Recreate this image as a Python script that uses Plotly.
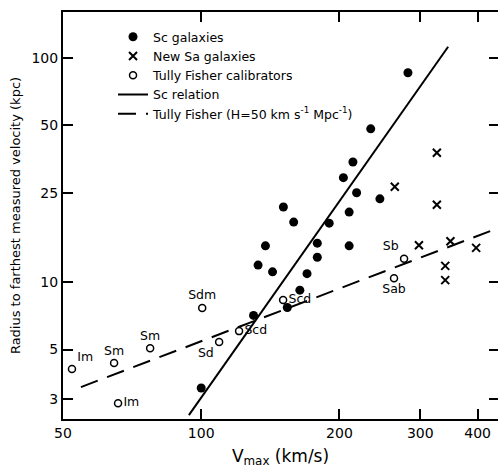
import numpy as np
import plotly.graph_objects as go

# Sc galaxies (Vmax km/s, radius kpc)
sc_v = [282, 234, 214, 204, 218, 245, 151, 159, 210, 190, 179, 210, 138, 179, 133, 143, 170, 164, 154, 130, 100]
sc_r = [85.7, 48.2, 34.3, 29.2, 25.0, 23.5, 21.6, 18.5, 20.5, 18.3, 14.9, 14.5, 14.5, 12.9, 11.9, 11.1, 10.9, 9.2, 7.7, 7.1, 3.37]

# New Sa galaxies
sa_v = [326, 264, 326, 298, 349, 397, 340, 340]
sa_r = [37.7, 26.6, 22.1, 14.6, 15.2, 14.2, 11.8, 10.2]

# Tully Fisher calibrators
tf_v = [52.3, 64.6, 77.4, 65.9, 100.5, 109.4, 120.9, 150.8, 276.6, 263]
tf_r = [4.09, 4.35, 5.07, 2.88, 7.66, 5.40, 6.04, 8.31, 12.7, 10.4]
tf_lab = ["Im", "Sm", "Sm", "Im", "Sdm", "Sd", "Scd", "Scd", "Sb", "Sab"]
tf_pos = ["top right", "top center", "top center", "middle right", "top center",
          "bottom left", "middle right", "middle right", "top left", "bottom center"]

# Sc relation line endpoints
scl_v = [94.0, 345]
scl_r = [2.55, 112]

# Tully Fisher relation line endpoints
tfl_v = [54.7, 443]
tfl_r = [3.40, 17.4]

xticks = [50, 100, 200, 300, 400]
yticks = [3, 5, 10, 25, 50, 100]

FONT = "DejaVu Sans"

fig = go.Figure()
fig.add_trace(go.Scatter(x=scl_v, y=scl_r, mode="lines", name="Sc relation",
                         line=dict(color="black", width=2), legendrank=4))
fig.add_trace(go.Scatter(x=tfl_v, y=tfl_r, mode="lines",
                         name="Tully Fisher (H=50 km s<sup>-1</sup> Mpc<sup>-1</sup>)",
                         line=dict(color="black", width=2, dash="18px,10px"), legendrank=5))
fig.add_trace(go.Scatter(x=sc_v, y=sc_r, mode="markers", name="Sc galaxies",
                         marker=dict(symbol="circle", size=9, color="black"), legendrank=1))
fig.add_trace(go.Scatter(x=sa_v, y=sa_r, mode="markers", name="New Sa galaxies",
                         marker=dict(symbol="x-thin-open", size=8, color="black",
                                     line=dict(color="black", width=2)), legendrank=2))
fig.add_trace(go.Scatter(x=tf_v, y=tf_r, mode="markers+text", name="Tully Fisher calibrators",
                         text=tf_lab, textposition=tf_pos,
                         textfont=dict(family=FONT, size=12.5, color="black"),
                         marker=dict(symbol="circle-open", size=7, color="black",
                                     line=dict(color="black", width=1.5)), legendrank=3))
# invisible trace for right-hand ticks
fig.add_trace(go.Scatter(x=[], y=[], yaxis="y2", showlegend=False, hoverinfo="skip"))

fig.update_layout(
    width=498, height=469,
    margin=dict(l=63, r=0, t=12, b=50, autoexpand=False),
    paper_bgcolor="white", plot_bgcolor="white",
    font=dict(family=FONT, size=12, color="black"),
    showlegend=True,
    legend=dict(x=0.115, y=0.975, xanchor="left", yanchor="top",
                bgcolor="rgba(0,0,0,0)", font=dict(family=FONT, size=12.5),
                itemwidth=30, tracegroupgap=0),
    xaxis=dict(type="log", range=[np.log10(50), np.log10(443)], automargin=False,
               tickvals=xticks, ticktext=[str(v) for v in xticks],
               ticks="inside", ticklen=10, tickwidth=1.5, tickcolor="black",
               showline=True, linecolor="black", linewidth=2, mirror="ticks",
               showgrid=False, zeroline=False,
               tickfont=dict(family=FONT, size=14),
               title=dict(text="V<sub>max</sub> (km/s)", font=dict(family=FONT, size=17), standoff=10)),
    yaxis=dict(type="log", range=[np.log10(2.45), np.log10(160)], automargin=False,
               tickvals=yticks, ticktext=[str(v) for v in yticks],
               ticks="inside", ticklen=10, tickwidth=1.5, tickcolor="black",
               showline=True, linecolor="black", linewidth=2,
               showgrid=False, zeroline=False,
               tickfont=dict(family=FONT, size=14),
               title=dict(text="Radius to farthest measured velocity (kpc)",
                          font=dict(family=FONT, size=13), standoff=8)),
    yaxis2=dict(type="log", overlaying="y", side="right", matches="y", automargin=False,
                range=[np.log10(2.45), np.log10(160)],
                tickvals=yticks, showticklabels=False,
                ticks="inside", ticklen=9, tickwidth=1.5, tickcolor="black",
                showline=False, showgrid=False, zeroline=False),
)

fig.write_html("out.html", config={"displayModeBar": False},
               post_script="document.body.style.margin='0';document.body.style.overflow='hidden';")
